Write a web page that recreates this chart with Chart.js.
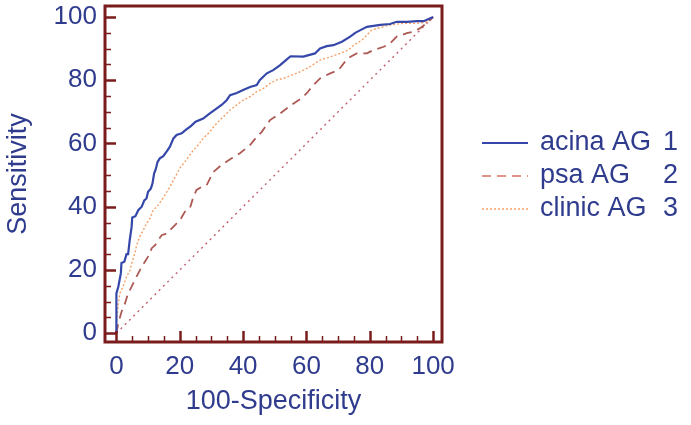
<!DOCTYPE html>
<html>
<head>
<meta charset="utf-8">
<script src="https://cdn.jsdelivr.net/npm/chart.js@4"></script>
<style>
  body { margin: 0; background: #fff; }
  #wrap { position: relative; width: 691px; height: 425px; }
</style>
</head>
<body>
<div id="wrap"><canvas id="roc"></canvas></div>
<script>
// ROC curves: 100-specificity (x) vs sensitivity (y)
const fprAcina = [0, 0, 0.6, 1.4, 1.6, 2.5, 3.2, 3.7, 4.2, 4.8, 5, 6, 6.9, 8, 8.8, 9.5, 10, 10.9, 11.4, 11.9, 12.4, 13, 13.7, 14.8, 15.9, 16.9, 18, 19, 20.6, 22, 23.5, 25, 27.4, 29.5, 31.7, 33.2, 34.8, 35.9, 38, 40, 42.2, 44.3, 45.3, 47.5, 49.5, 51.7, 53.8, 55, 59, 62.7, 64.3, 66.4, 68.5, 71.2, 73.8, 75.4, 77.5, 79.1, 83.3, 86.4, 88.5, 91.7, 94.9, 97, 100];
const tprAcina = [0, 12.6, 14.7, 18.9, 22.2, 22.6, 25, 25, 29.4, 33.6, 36.6, 37, 38.9, 40, 42, 42.6, 44.7, 45.8, 47.4, 50.5, 51.8, 54.2, 55.3, 56, 57.5, 59, 61.6, 62.7, 63.2, 64.4, 65.5, 66.9, 67.9, 69.5, 71.1, 72.2, 73.7, 75.3, 76, 76.9, 77.9, 78.5, 80.1, 82.2, 83.2, 84.8, 86.6, 87.6, 87.5, 88.5, 90.1, 90.8, 91.1, 92.2, 93.8, 95, 96.1, 96.9, 97.5, 97.8, 98.5, 98.5, 98.7, 98.7, 100];

const fprPsa = [0, 0.6, 1.6, 2.7, 3.7, 4.8, 5.8, 6.9, 8, 9, 10.6, 11.1, 12.2, 13.2, 14.3, 15.9, 17.4, 18.5, 20.1, 21.6, 23.2, 24.3, 25.3, 26.9, 28.5, 30.6, 33.2, 36.4, 39, 42.2, 44.3, 45.9, 48.5, 51.7, 54.8, 58, 60.1, 62.2, 64.3, 67.5, 70.1, 72.2, 73.8, 75.9, 79.1, 81.2, 84.4, 86.4, 88.5, 90.1, 91.7, 93.8, 95.9, 98, 100];
const tprPsa = [0, 3.1, 6.7, 9.4, 12.6, 14.7, 16.8, 18.9, 21, 22.6, 25.2, 26.8, 27.8, 29.4, 31, 31.5, 33.1, 34.2, 35.8, 38.4, 39.5, 43.1, 45.3, 46.3, 46.8, 51, 53.2, 55.3, 56.9, 59.5, 62.1, 63.7, 67.4, 69.5, 71.9, 74, 75.9, 78.5, 80.6, 82.2, 83.2, 85.9, 87.4, 88.5, 88.5, 89.6, 90.6, 91.7, 93.8, 94.3, 94.9, 95.4, 96.5, 98.1, 100];

const fprClinic = [0, 0, 0.6, 1.1, 2.1, 3.2, 4.3, 4.8, 5.8, 6.4, 7.4, 8.5, 9.5, 10.6, 11.6, 13.2, 14.3, 15.3, 16.9, 18, 20.1, 22.2, 24.3, 25.8, 27.4, 29.5, 31.1, 32.7, 34.3, 35.9, 38, 40, 42.2, 44.3, 46.4, 48.5, 50.6, 52.7, 54.8, 58, 61.1, 64.3, 67.5, 70.6, 73.3, 74.3, 75.9, 77.5, 79.1, 80.6, 82.2, 86.4, 90.6, 94.9, 98, 100];
const tprClinic = [0, 3, 9.4, 12.6, 14.7, 17.8, 19.9, 22, 25.2, 27.8, 30.5, 32.6, 34.7, 36.3, 38.9, 40.5, 42.1, 43.7, 46.3, 48.4, 52.3, 55, 57.9, 59.5, 61.6, 63.7, 65.8, 67.4, 69, 70.6, 72.2, 73.7, 74.8, 76.4, 77.4, 79, 80.1, 80.6, 81.4, 82.7, 84.3, 86.4, 87.4, 88.5, 89.6, 90.6, 91.7, 92.7, 94.3, 95.9, 96.4, 97.5, 98, 98, 98.5, 100];

const refLine = [0, 100];

const seriesNames = ['acina AG', 'psa AG', 'clinic AG'];
const seriesNumbers = ['1', '2', '3'];
const xTicks = [0, 20, 40, 60, 80, 100];
const yTicks = [0, 20, 40, 60, 80, 100];

const FRAME = '#7a1c1c';
const TEXT = '#2f3c8e';
const FONT = 'Arial, "Liberation Sans", sans-serif';

const pts = (xs, ys) => xs.map((x, i) => ({ x: x, y: ys[i] }));

// frame with inward ticks, like the original stats package
const framePlugin = {
  id: 'frame',
  afterDraw(chart) {
    const { ctx, chartArea: a, scales: { x, y } } = chart;
    ctx.save();
    ctx.strokeStyle = FRAME;
    for (let v = 0; v <= 100; v += 5) {
      const major = v % 20 === 0;
      const len = major ? 11 : 6;
      ctx.lineWidth = major ? 2.5 : 1.5;
      const py = Math.round(y.getPixelForValue(v)) + 0.5;
      const px = Math.round(x.getPixelForValue(v)) + 0.5;
      ctx.beginPath();
      ctx.moveTo(a.left, py); ctx.lineTo(a.left + len, py);
      ctx.moveTo(px, a.bottom); ctx.lineTo(px, a.bottom - len);
      ctx.stroke();
    }
    ctx.lineWidth = 3;
    ctx.strokeRect(a.left, a.top, a.right - a.left, a.bottom - a.top);
    ctx.restore();
  }
};

// legend on the right with numbered entries
const legendPlugin = {
  id: 'numLegend',
  afterDraw(chart) {
    const ctx = chart.ctx;
    ctx.save();
    ctx.font = '27px ' + FONT;
    ctx.textBaseline = 'middle';
    seriesNames.forEach((name, i) => {
      const ds = chart.data.datasets[i];
      const yy = 143 + i * 33;
      ctx.strokeStyle = ds.legendColor || ds.borderColor;
      ctx.lineWidth = ds.borderWidth;
      ctx.setLineDash(ds.borderDash || []);
      ctx.beginPath();
      ctx.moveTo(482, yy); ctx.lineTo(528, yy);
      ctx.stroke();
      ctx.setLineDash([]);
      ctx.fillStyle = TEXT;
      ctx.textAlign = 'left';
      ctx.fillText(name, 540, yy);
      ctx.textAlign = 'right';
      ctx.fillText(seriesNumbers[i], 678, yy);
    });
    ctx.restore();
  }
};

new Chart(document.getElementById('roc'), {
  type: 'scatter',
  data: {
    datasets: [
      { label: seriesNames[0], data: pts(fprAcina, tprAcina), showLine: true, borderColor: '#3548aa', borderWidth: 2.2, pointRadius: 0, tension: 0 },
      { label: seriesNames[1], data: pts(fprPsa, tprPsa), showLine: true, borderColor: '#ad5a55', legendColor: '#e0958a', borderWidth: 1.8, borderDash: [9, 6], pointRadius: 0, tension: 0 },
      { label: seriesNames[2], data: pts(fprClinic, tprClinic), showLine: true, borderColor: '#f4a066', borderWidth: 1.4, borderDash: [2, 2], pointRadius: 0, tension: 0 },
      { label: 'reference', data: pts(refLine, refLine), showLine: true, borderColor: '#c2606e', borderWidth: 1.4, borderDash: [2, 4], pointRadius: 0 }
    ]
  },
  options: {
    responsive: true,
    maintainAspectRatio: false,
    animation: false,
    layout: { padding: { left: 0, top: 6, right: 249, bottom: 0 } },
    plugins: { legend: { display: false }, tooltip: { enabled: false } },
    scales: {
      x: {
        type: 'linear', min: -3.6, max: 102.8,
        afterBuildTicks: s => { s.ticks = xTicks.map(v => ({ value: v })); },
        afterFit: s => { s.height = 83; s.paddingLeft = 0; s.paddingRight = 0; },
        grid: { display: false, drawTicks: false },
        border: { display: false },
        ticks: { color: TEXT, font: { size: 26, family: FONT }, padding: 9, maxRotation: 0 },
        title: { display: true, text: '100-Specificity', color: TEXT, font: { size: 27, family: FONT }, padding: { bottom: 7 } }
      },
      y: {
        type: 'linear', min: -2.8, max: 103.5,
        afterBuildTicks: s => { s.ticks = yTicks.map(v => ({ value: v })); },
        afterFit: s => { s.width = 105; s.paddingTop = 0; s.paddingBottom = 0; },
        grid: { display: false, drawTicks: false },
        border: { display: false },
        ticks: { color: TEXT, font: { size: 26, family: FONT }, padding: 8 },
        title: { display: true, text: 'Sensitivity', color: TEXT, font: { size: 27, family: FONT }, padding: { top: 2 } }
      }
    }
  },
  plugins: [framePlugin, legendPlugin]
});
</script>
</body>
</html>
